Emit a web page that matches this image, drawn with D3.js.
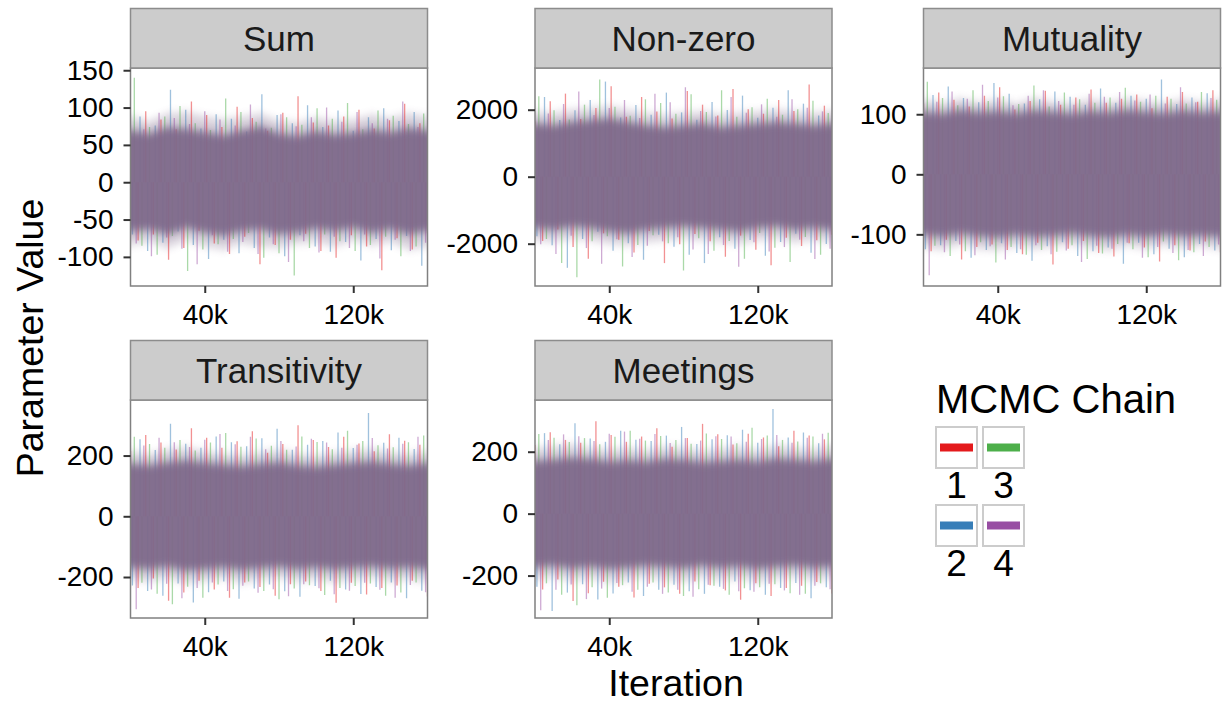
<!DOCTYPE html>
<html>
<head>
<meta charset="utf-8">
<script src="https://cdn.jsdelivr.net/npm/d3@7"></script>
<style>
  body { margin: 0; background: #fff; }
  svg text { font-family: "Liberation Sans", Arial, Helvetica, sans-serif; }
</style>
</head>
<body>
<div id="chart"></div>
<script>
// ---- data ----
var panelNames = ["Sum", "Non-zero", "Mutuality", "Transitivity", "Meetings"];
var chainNames = ["1", "2", "3", "4"];
var chainColors = ["#e41a1c", "#377eb8", "#4daf4a", "#984ea3"];

var iterLimits = [0, 160000];
var iterTicks = [40000, 120000];
var iterTickLabels = ["40k", "120k"];

var yLimits = [[-139, 153], [-3263, 3245], [-186, 177], [-335, 383], [-337, 367]];
var yTicks = [[-100, -50, 0, 50, 100, 150], [-2000, 0, 2000], [-100, 0, 100], [-200, 0, 200], [-200, 0, 200]];

// dense overlap of the four chains (solid core) and the looser haze round it
var bandIter = [0, 10000, 20000, 30000, 40000, 50000, 60000, 70000, 80000, 90000, 100000, 110000, 120000, 130000, 140000, 150000, 160000];
var coreUpper = [
  [70, 66, 74, 72, 68, 64, 70, 75, 66, 63, 69, 65, 67, 71, 68, 73, 70],
  [1600, 1550, 1650, 1700, 1750, 1650, 1550, 1500, 1550, 1600, 1500, 1550, 1600, 1650, 1600, 1550, 1600],
  [105, 102, 108, 104, 106, 103, 107, 105, 102, 106, 104, 108, 105, 103, 107, 104, 106],
  [175, 170, 180, 185, 178, 172, 168, 175, 180, 170, 166, 172, 178, 182, 175, 170, 176],
  [172, 176, 182, 178, 170, 174, 170, 178, 176, 168, 172, 176, 170, 180, 176, 172, 178]
];
var coreLower = [
  [-66, -64, -70, -62, -68, -72, -66, -64, -70, -68, -63, -66, -62, -68, -64, -70, -66],
  [-1550, -1600, -1500, -1550, -1650, -1700, -1600, -1550, -1500, -1550, -1600, -1650, -1550, -1500, -1600, -1550, -1600],
  [-102, -105, -100, -104, -106, -102, -105, -103, -100, -104, -106, -102, -105, -101, -104, -103, -105],
  [-170, -175, -168, -180, -176, -170, -178, -172, -168, -175, -170, -176, -172, -168, -174, -170, -176],
  [-174, -170, -178, -172, -180, -176, -170, -174, -178, -170, -176, -172, -180, -174, -170, -176, -172]
];
var hazeUpper = [
  [88, 82, 92, 94, 88, 84, 88, 92, 82, 80, 86, 82, 84, 90, 86, 92, 88],
  [1950, 1900, 2000, 2050, 2100, 2000, 1900, 1850, 1900, 1950, 1850, 1900, 1950, 2000, 1950, 1900, 1950],
  [124, 119, 126, 120, 125, 118, 127, 121, 119, 125, 120, 126, 122, 119, 125, 120, 124],
  [215, 205, 220, 226, 214, 207, 203, 212, 218, 205, 200, 209, 216, 222, 212, 206, 216],
  [212, 217, 223, 213, 207, 213, 205, 217, 213, 203, 211, 215, 205, 221, 213, 209, 219]
];
var hazeLower = [
  [-84, -80, -88, -78, -86, -90, -82, -86, -88, -82, -80, -86, -78, -84, -80, -90, -86],
  [-1900, -1950, -1850, -1900, -2000, -2050, -1950, -1900, -1850, -1900, -1950, -2000, -1900, -1850, -1950, -1900, -1950],
  [-122, -125, -117, -124, -126, -119, -124, -120, -117, -123, -126, -119, -124, -118, -123, -120, -125],
  [-209, -215, -203, -221, -213, -205, -219, -209, -203, -214, -207, -217, -209, -203, -213, -207, -217],
  [-213, -205, -217, -209, -221, -213, -205, -213, -219, -207, -215, -209, -221, -211, -205, -215, -209]
];

// thinned draws, one row per chain (1, 2, 3, 4)
var traceSum = [
  [62, -78, 95, -70, 84, -104, 71, -88, 108, -65, 90, -82, 74, -96, 101, -73, 86, -110, 69, -84, 93, -77, 115, -69, 80, -92, 76, -101, 88, -71, 97, -86, 72, -118, 83, -75, 105, -90, 79, -68],
  [-70, 88, -92, 76, -81, 124, -66, 97, -84, 72, -103, 91, -77, 85, -95, 68, -88, 118, -74, 90, -99, 79, -71, 103, -86, 74, -93, 96, -80, 69, -105, 87, -76, 99, -91, 82, -72, 94, -112, 86],
  [140, -85, 74, -97, 88, -72, 102, -119, 79, -90, 70, -83, 112, -76, 94, -68, 81, -101, 73, -95, 87, -125, 77, -88, 99, -70, 85, -79, 106, -92, 71, -84, 96, -73, 89, -99, 78, -86, 92, -74],
  [-82, 71, -99, 93, -74, 86, -89, 78, -110, 95, -71, 84, -93, 76, -80, 104, -96, 72, -83, 91, -107, 75, -79, 87, -94, 100, -73, 81, -88, 94, -70, 79, -102, 85, -77, 108, -92, 74, -81, 97]
];
var traceNonZero = [
  [1650, -1920, 2250, -1580, 2480, -2100, 1720, -2450, 2050, -1690, 2700, -1880, 1790, -2260, 2380, -1620, 1950, -2580, 1740, -2020, 2560, -1710, 2150, -1930, 1830, -2390, 2620, -1760, 2010, -2180, 1880, -2640, 2290, -1820, 1960, -2070, 2750, -1900, 2120, -1730],
  [-1780, 2380, -2050, 1690, -2720, 1980, -1860, 2290, -1640, 2840, -2210, 1770, -1990, 2140, -2480, 1850, -1730, 2510, -2090, 1920, -2330, 1700, -2580, 2230, -1810, 1990, -2150, 2420, -1890, 1760, -2360, 2060, -1950, 2580, -1700, 2180, -2270, 1830, -2010, 2340],
  [2400, -1860, 1980, -2580, 1710, -3000, 2150, -1930, 2900, -1780, 2090, -2680, 1820, -2040, 2310, -1750, 2200, -1990, 1880, -2800, 2460, -1840, 1930, -2210, 2580, -1920, 1790, -2450, 2070, -1680, 2330, -2120, 1850, -2550, 2010, -1800, 2270, -2330, 1900, -2080],
  [-2020, 1890, -2310, 2170, -1760, 2540, -2130, 1840, -2600, 2050, -1870, 2290, -2400, 1750, -2060, 2480, -1930, 2220, -1810, 2670, -2170, 1960, -2310, 1800, -2040, 2380, -2690, 1910, -1960, 2160, -2230, 1790, -2100, 2310, -1880, 2060, -2460, 1950, -2150, 2200]
];
var traceMutuality = [
  [118, -128, 136, -109, 124, -142, 113, -121, 131, -117, 145, -126, 108, -133, 122, -114, 139, -150, 116, -124, 128, -111, 141, -131, 119, -137, 126, -115, 133, -122, 110, -145, 129, -118, 137, -127, 121, -112, 140, -130],
  [-125, 132, -118, 146, -111, 127, -139, 120, -126, 152, -115, 134, -131, 118, -144, 125, -120, 138, -113, 129, -136, 116, -128, 143, -122, 119, -149, 131, -114, 126, -133, 158, -124, 117, -138, 128, -116, 135, -127, 121],
  [154, -119, 127, -136, 115, -128, 140, -113, 122, -147, 130, -121, 117, -134, 148, -126, 113, -129, 136, -118, 125, -141, 119, -132, 128, -116, 144, -125, 121, -138, 131, -112, 126, -143, 118, -130, 137, -121, 124, -135],
  [-168, 121, -130, 138, -117, 126, -135, 149, -120, 128, -142, 115, -125, 131, -118, 140, -133, 122, -127, 116, -146, 134, -119, 129, -124, 137, -114, 123, -139, 133, -121, 118, -131, 145, -126, 120, -136, 127, -117, 132]
];
var traceTransitivity = [
  [215, -236, 268, -205, 243, -278, 220, -251, 290, -212, 259, -241, 226, -268, 247, -218, 280, -233, 209, -262, 238, -224, 300, -215, 251, -246, 228, -285, 262, -219, 240, -258, 214, -236, 270, -228, 249, -212, 236, -264],
  [-228, 254, -246, 218, -262, 305, -221, 239, -284, 226, -250, 263, -215, 244, -272, 231, -238, 257, -225, 288, -247, 219, -265, 236, -230, 248, -212, 276, -241, 225, -256, 340, -233, 242, -218, 259, -270, 222, -245, 251],
  [262, -219, 238, -255, 226, -290, 251, -232, 217, -268, 243, -225, 274, -240, 229, -215, 256, -246, 232, -273, 219, -238, 263, -227, 245, -259, 221, -236, 282, -230, 248, -221, 234, -262, 227, -251, 244, -218, 266, -240],
  [-306, 233, -241, 259, -222, 244, -270, 228, -236, 252, -218, 271, -246, 237, -229, 262, -252, 221, -240, 248, -263, 230, -224, 255, -237, 243, -257, 226, -245, 236, -219, 258, -242, 223, -268, 239, -226, 262, -250, 229]
];
var traceMeetings = [
  [222, -245, 263, -213, 238, -282, 229, -257, 298, -220, 254, -236, 232, -271, 249, -226, 276, -238, 216, -259, 244, -219, 290, -231, 256, -248, 223, -278, 258, -225, 246, -266, 218, -240, 268, -233, 252, -221, 240, -258],
  [-236, 260, -314, 224, -255, 292, -228, 243, -277, 232, -258, 268, -222, 239, -266, 235, -246, 252, -230, 280, -251, 225, -259, 240, -236, 253, -219, 271, -247, 229, -262, 338, -240, 246, -224, 262, -273, 227, -238, 256],
  [257, -225, 245, -262, 231, -296, 244, -238, 224, -272, 248, -231, 268, -246, 236, -222, 251, -255, 238, -266, 226, -244, 259, -233, 241, -262, 227, -241, 277, -238, 252, -228, 238, -257, 233, -259, 249, -225, 261, -246],
  [-312, 238, -246, 256, -229, 250, -276, 235, -242, 258, -224, 265, -252, 242, -236, 257, -259, 228, -246, 244, -268, 236, -230, 250, -243, 249, -251, 232, -252, 241, -226, 254, -248, 229, -262, 245, -233, 258, -244, 234]
];
var traces = [traceSum, traceNonZero, traceMutuality, traceTransitivity, traceMeetings];

// ---- layout ----
var width = 1224, height = 704;
var colLeft = [130.5, 535, 923.5];
var panelW = 297;
var stripTop = [8.5, 340.5];
var stripH = 59.5;
var panelH = 218;
var coreColor = "#7f6a8b";

var svg = d3.select("#chart").append("svg")
    .attr("width", width)
    .attr("height", height);

var defs = svg.append("defs");

// soft vertical edge for the overlapping traces
var blur = defs.append("filter").attr("id", "vblur")
    .attr("x", 0).attr("width", 1)
    .attr("y", "-20%").attr("height", "140%");
blur.append("feGaussianBlur").attr("stdDeviation", "0 4");

panelNames.forEach(function(name, p) {
  var col = p % 3, row = Math.floor(p / 3);
  var left = colLeft[col];
  var top = stripTop[row] + stripH;

  var x = d3.scaleLinear().domain(iterLimits).range([0, panelW]);
  var y = d3.scaleLinear().domain(yLimits[p]).range([panelH, 0]);

  var g = svg.append("g")
      .attr("transform", "translate(" + left + "," + top + ")");

  defs.append("clipPath").attr("id", "clip" + p)
    .append("rect").attr("width", panelW).attr("height", panelH);

  // strip
  svg.append("rect")
      .attr("x", left).attr("y", stripTop[row])
      .attr("width", panelW).attr("height", stripH)
      .attr("fill", "#cccccc")
      .attr("stroke", "#8c8c8c")
      .attr("stroke-width", 1.5);
  svg.append("text")
      .attr("x", left + panelW / 2)
      .attr("y", stripTop[row] + stripH / 2)
      .attr("dy", "0.36em")
      .attr("text-anchor", "middle")
      .attr("font-size", 35)
      .attr("fill", "#1a1a1a")
      .text(name);

  g.append("rect")
      .attr("width", panelW).attr("height", panelH)
      .attr("fill", "#fff");

  var plot = g.append("g").attr("clip-path", "url(#clip" + p + ")");

  var bandIdx = d3.range(bandIter.length);
  var area = function(up, lo) {
    return d3.area()
      .x(function(i) { return x(bandIter[i]); })
      .y0(function(i) { return y(lo[i]); })
      .y1(function(i) { return y(up[i]); })(bandIdx);
  };

  plot.append("path")
      .attr("d", area(hazeUpper[p], hazeLower[p]))
      .attr("fill", coreColor)
      .attr("filter", "url(#vblur)")
      .attr("opacity", 0.3);

  // each draw as a hairline from zero out to its value
  traces[p].forEach(function(vals, k) {
    var idx = d3.scaleLinear().domain([-k / 4, vals.length - 1 - k / 4]).range(iterLimits);
    plot.append("g")
      .selectAll("line")
      .data(vals)
      .enter().append("line")
        .attr("x1", function(d, i) { return x(idx(i)); })
        .attr("x2", function(d, i) { return x(idx(i)); })
        .attr("y1", y(0))
        .attr("y2", function(d) { return y(d); })
        .attr("stroke", chainColors[k])
        .attr("stroke-width", 1.3)
        .attr("stroke-opacity", 0.48);
  });

  plot.append("path")
      .attr("d", area(coreUpper[p], coreLower[p]))
      .attr("fill", coreColor)
      .attr("filter", "url(#vblur)")
      .attr("opacity", 0.95);

  g.append("rect")
      .attr("width", panelW).attr("height", panelH)
      .attr("fill", "none")
      .attr("stroke", "#808080")
      .attr("stroke-width", 1.5);

  var yAxis = g.append("g")
      .call(d3.axisLeft(y).tickValues(yTicks[p]).tickSize(7).tickPadding(10)
        .tickFormat(function(d) { return String(d); }));
  var xAxis = g.append("g")
      .attr("transform", "translate(0," + panelH + ")")
      .call(d3.axisBottom(x).tickValues(iterTicks).tickSize(7).tickPadding(11)
        .tickFormat(function(d, i) { return iterTickLabels[i]; }));

  [yAxis, xAxis].forEach(function(a) {
    a.select(".domain").remove();
    a.selectAll(".tick line").attr("stroke", "#333").attr("stroke-width", 2);
    a.selectAll(".tick text")
      .attr("fill", "#000")
      .attr("font-size", 28)
      .attr("font-family", "'Liberation Sans', Arial, sans-serif");
  });
});

// axis titles
svg.append("text")
    .attr("transform", "translate(43,338) rotate(-90)")
    .attr("text-anchor", "middle")
    .attr("font-size", 37.5)
    .text("Parameter Value");
svg.append("text")
    .attr("x", 676).attr("y", 696)
    .attr("text-anchor", "middle")
    .attr("font-size", 37.5)
    .text("Iteration");

// legend
var legend = svg.append("g").attr("transform", "translate(935,426)");
legend.append("text")
    .attr("x", 1).attr("y", -13)
    .attr("font-size", 40)
    .text("MCMC Chain");

var keySize = 43, keyGapX = 47, keyGapY = 78;
var keys = legend.selectAll("g.key")
  .data(chainNames)
  .enter().append("g")
    .attr("class", "key")
    .attr("transform", function(d, i) {
      return "translate(" + (Math.floor(i / 2) * keyGapX) + "," + ((i % 2) * keyGapY) + ")";
    });
keys.append("rect")
    .attr("x", 1).attr("y", 1)
    .attr("width", keySize - 2).attr("height", keySize - 2)
    .attr("fill", "#fff")
    .attr("stroke", "#cccccc")
    .attr("stroke-width", 2);
keys.append("line")
    .attr("x1", 5).attr("x2", keySize - 5)
    .attr("y1", keySize / 2).attr("y2", keySize / 2)
    .attr("stroke", function(d, i) { return chainColors[i]; })
    .attr("stroke-width", 8);
keys.append("text")
    .attr("x", keySize / 2)
    .attr("y", keySize + 29)
    .attr("text-anchor", "middle")
    .attr("font-size", 37)
    .text(function(d) { return d; });
</script>
</body>
</html>
